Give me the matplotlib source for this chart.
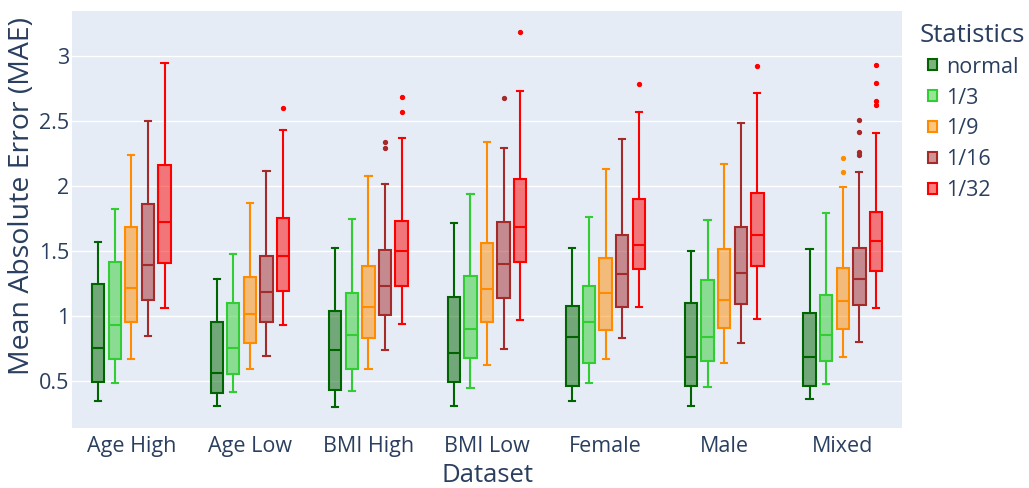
import matplotlib.pyplot as plt
from matplotlib.patches import Patch

plt.rcParams['font.family'] = ['Open Sans', 'DejaVu Sans']

# datasets and statistics
datasets = ["Age High", "Age Low", "BMI High", "BMI Low", "Female", "Male", "Mixed"]
stats_names = ["normal", "1/3", "1/9", "1/16", "1/32"]
colors = ["#006400", "#32CD32", "#FF8C00", "#A52A2A", "#FF0000"]

# box summaries (one list per statistic, one value per dataset)
med_normal = [0.756, 0.562, 0.741, 0.713, 0.836, 0.682, 0.682]
q1_normal = [0.495, 0.405, 0.431, 0.495, 0.464, 0.464, 0.464]
q3_normal = [1.246, 0.954, 1.036, 1.144, 1.079, 1.102, 1.023]
lo_normal = [0.346, 0.308, 0.303, 0.310, 0.346, 0.310, 0.359]
hi_normal = [1.567, 1.282, 1.521, 1.718, 1.521, 1.503, 1.515]
out_normal = [[], [], [], [], [], [], []]

med_3 = [0.931, 0.751, 0.851, 0.902, 0.954, 0.836, 0.851]
q1_3 = [0.667, 0.554, 0.590, 0.677, 0.638, 0.651, 0.651]
q3_3 = [1.413, 1.097, 1.177, 1.310, 1.231, 1.279, 1.159]
lo_3 = [0.487, 0.418, 0.420, 0.444, 0.482, 0.456, 0.477]
hi_3 = [1.823, 1.477, 1.746, 1.941, 1.759, 1.741, 1.790]
out_3 = [[], [], [], [], [], [], []]

med_9 = [1.213, 1.018, 1.072, 1.205, 1.174, 1.123, 1.113]
q1_9 = [0.954, 0.795, 0.833, 0.954, 0.890, 0.910, 0.902]
q3_9 = [1.687, 1.300, 1.385, 1.562, 1.449, 1.518, 1.369]
lo_9 = [0.667, 0.590, 0.595, 0.626, 0.667, 0.635, 0.685]
hi_9 = [2.241, 1.869, 2.077, 2.341, 2.131, 2.172, 1.992]
out_9 = [[], [], [], [], [], [], [2.213, 2.108]]

med_16 = [1.390, 1.182, 1.228, 1.397, 1.323, 1.328, 1.287]
q1_16 = [1.125, 0.954, 1.005, 1.141, 1.069, 1.095, 1.082]
q3_16 = [1.862, 1.462, 1.505, 1.720, 1.623, 1.685, 1.521]
lo_16 = [0.846, 0.695, 0.736, 0.749, 0.833, 0.795, 0.800]
hi_16 = [2.503, 2.118, 2.015, 2.295, 2.362, 2.487, 2.105]
out_16 = [[], [], [2.341, 2.290], [2.674], [], [], [2.505, 2.415, 2.262, 2.236]]

med_32 = [1.723, 1.459, 1.497, 1.682, 1.549, 1.626, 1.577]
q1_32 = [1.410, 1.192, 1.231, 1.418, 1.364, 1.385, 1.348]
q3_32 = [2.159, 1.751, 1.731, 2.054, 1.900, 1.949, 1.802]
lo_32 = [1.059, 0.928, 0.936, 0.967, 1.069, 0.977, 1.062]
hi_32 = [2.949, 2.433, 2.367, 2.733, 2.567, 2.718, 2.405]
out_32 = [[], [2.598], [2.685, 2.567], [3.185], [2.782], [2.920], [2.928, 2.790, 2.654, 2.621]]

meds = [med_normal, med_3, med_9, med_16, med_32]
q1s = [q1_normal, q1_3, q1_9, q1_16, q1_32]
q3s = [q3_normal, q3_3, q3_9, q3_16, q3_32]
los = [lo_normal, lo_3, lo_9, lo_16, lo_32]
his = [hi_normal, hi_3, hi_9, hi_16, hi_32]
outs = [out_normal, out_3, out_9, out_16, out_32]

text_col = "#2a3f5f"

fig = plt.figure(figsize=(10.29, 4.88), dpi=100)
ax = fig.add_axes([0.07, 0.123, 0.8066, 0.8545])
ax.set_facecolor("#E5ECF6")

offset = 0.14
width = 0.104
for s in range(len(stats_names)):
    col = colors[s]
    fill = plt.matplotlib.colors.to_rgba(col, 0.5)
    bstats = []
    for d in range(len(datasets)):
        bstats.append({"med": meds[s][d], "q1": q1s[s][d], "q3": q3s[s][d],
                       "whislo": los[s][d], "whishi": his[s][d], "fliers": outs[s][d]})
    pos = [d + (s - 2) * offset for d in range(len(datasets))]
    ax.bxp(bstats, positions=pos, widths=width, patch_artist=True, manage_ticks=False,
           boxprops=dict(facecolor=fill, edgecolor=col, linewidth=1.5),
           medianprops=dict(color=col, linewidth=1.5),
           whiskerprops=dict(color=col, linewidth=1.5),
           capprops=dict(color=col, linewidth=1.5),
           flierprops=dict(marker="o", markerfacecolor=col, markeredgecolor=col, markersize=2.8))

ax.set_xlim(-0.5, len(datasets) - 0.5)
ax.set_ylim(0.138, 3.346)
ax.set_yticks([0.5, 1, 1.5, 2, 2.5, 3])
ax.set_yticklabels(["0.5", "1", "1.5", "2", "2.5", "3"])
ax.set_xticks(range(len(datasets)))
ax.set_xticklabels(datasets)
ax.grid(axis="y", color="white", linewidth=1)
ax.set_axisbelow(True)
for sp in ax.spines.values():
    sp.set_visible(False)
ax.tick_params(length=0, labelsize=15.5, labelcolor=text_col)
ax.tick_params(axis="y", pad=2)
ax.tick_params(axis="x", pad=6)
ax.set_xlabel("Dataset", fontsize=18.5, color=text_col, labelpad=4)
ax.set_ylabel("Mean Absolute Error (MAE)", fontsize=20.5, color=text_col)
ax.yaxis.set_label_coords(-0.043, 0.556)

# legend title placed like plotly, left of the items
fig.text(920 / 1029, 1 - 36 / 488, "Statistics", fontsize=18.5, color=text_col,
         ha="left", va="center")
handles = [Patch(facecolor=plt.matplotlib.colors.to_rgba(c, 0.5), edgecolor=c, linewidth=1.5) for c in colors]
leg = fig.legend(handles, stats_names, loc="upper left",
                 bbox_to_anchor=(0.902, 0.884), frameon=False, fontsize=15.5,
                 borderpad=0, borderaxespad=0, handlelength=0.42, handleheight=0.42,
                 handletextpad=0.4, labelspacing=0.46)
for t in leg.get_texts():
    t.set_color(text_col)

plt.savefig("out.png", dpi=100)
